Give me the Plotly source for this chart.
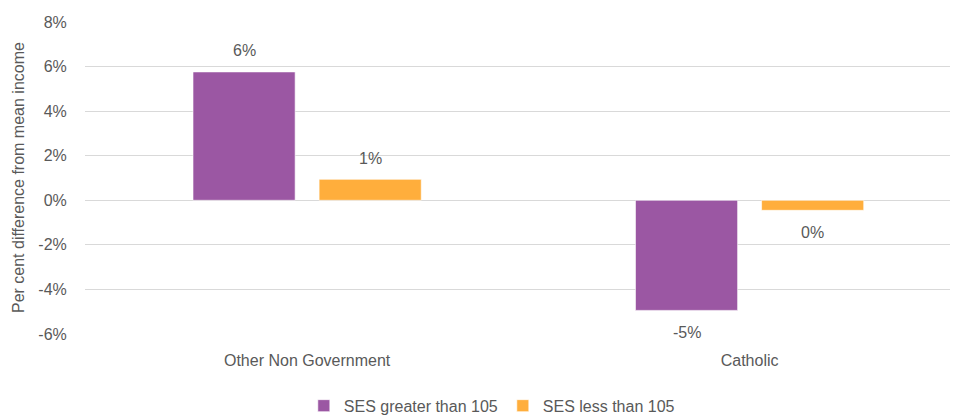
import plotly.graph_objects as go

categories = ["Other Non Government", "Catholic"]
ses_greater = [0.0576, -0.0494]
ses_less = [0.0094, -0.0045]
series_names = ["SES greater than 105", "SES less than 105"]
tick_vals = [-0.06, -0.04, -0.02, 0, 0.02, 0.04, 0.06, 0.08]
tick_text = ["-6%", "-4%", "-2%", "0%", "2%", "4%", "6%", "8%"]
y_title = "Per cent difference from mean income"

FONT = "Liberation Sans Narrow, Arial Narrow, Liberation Sans, sans-serif"
GREY = "#595959"
FS = 16

fig = go.Figure()
colors = ["#9B57A3", "#FFAE3C"]
for name, vals, col in [(series_names[0], ses_greater, colors[0]),
                        (series_names[1], ses_less, colors[1])]:
    fig.add_trace(go.Bar(
        x=categories, y=vals, name=name,
        marker=dict(color=col, line=dict(color="rgba(255,255,255,0.6)", width=1)),
        hoverinfo="x+y",
    ))

# data labels as annotations at each bar end (offset above/below)
for i, vals in enumerate([ses_greater, ses_less]):
    for j, v in enumerate(vals):
        pct = round(v * 100)
        fig.add_annotation(
            x=j, y=v, xref="x", yref="y",
            text=f"{abs(pct) if pct == 0 else pct}%",
            showarrow=False,
            xshift=(-63 if i == 0 else 63),
            yshift=(21 if v >= 0 else -22),
            font=dict(family=FONT, size=FS, color=GREY),
        )

# y-axis title
fig.add_annotation(
    x=-0.0767, y=0.5, xref="paper", yref="paper",
    text=y_title, textangle=-90, showarrow=False,
    xanchor="center", yanchor="middle",
    font=dict(family=FONT, size=FS, color=GREY),
)

fig.update_layout(
    width=950, height=408,
    margin=dict(l=77, r=0, t=14, b=82, autoexpand=False),
    paper_bgcolor="white", plot_bgcolor="white",
    barmode="group", bargap=0.43, bargroupgap=0.19,
    font=dict(family=FONT, size=FS, color=GREY),
    showlegend=True,
    legend=dict(orientation="h", x=0.466, xanchor="center", y=-0.23, yanchor="middle",
                font=dict(family=FONT, size=FS, color=GREY),
                traceorder="normal", itemwidth=30),
    yaxis=dict(range=[-0.06, 0.08], tickvals=tick_vals, ticktext=tick_text,
               automargin=False,
               showgrid=True, gridcolor="#D9D9D9", gridwidth=1,
               zeroline=True, zerolinecolor="#D9D9D9", zerolinewidth=1,
               ticks="outside", ticklen=14, tickcolor="white", showline=False,
               tickfont=dict(family=FONT, size=FS, color=GREY)),
    xaxis=dict(range=[-0.502, 1.471], automargin=False,
               showgrid=False, showline=False,
               ticks="outside", ticklen=12, tickcolor="white",
               tickfont=dict(family=FONT, size=FS, color=GREY)),
)

fig.write_html("out.html")
